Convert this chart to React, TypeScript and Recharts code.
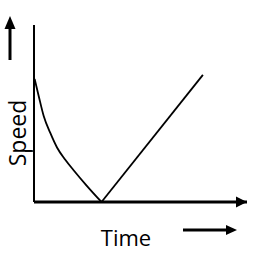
import {
  LineChart,
  Line,
  XAxis,
  YAxis,
  ReferenceLine,
  Customized,
} from "recharts";

// speed falls along a curve to zero, then rises linearly
const curveTime = [0.3, 2.2, 4.55, 7.65, 10.8, 14.6, 18.5, 24.7, 31.7];
const curveSpeed = [69.5, 59.9, 48.6, 39.0, 30.8, 24.0, 18.1, 9.3, 0];
const riseTime = [31.7, 79.3];
const riseSpeed = [0, 71.8];
const speedTick = 28.8;

const xLabel = "Time";
const yLabel = "Speed";

const curveData = curveTime.map((t, i) => ({ t, v: curveSpeed[i] }));
const riseData = riseTime.map((t, i) => ({ t, v: riseSpeed[i] }));

const FONT = "'Open Sans', 'Noto Sans', sans-serif";

function Decorations() {
  return (
    <g>
      {/* x axis arrowhead */}
      <polygon points="247,202 236,196.5 236,207.5" fill="#000" />
      {/* up arrow beside y label */}
      <line x1={10} y1={60} x2={10} y2={26} stroke="#000" strokeWidth={3} />
      <polygon points="10,16 4.5,29 15.5,29" fill="#000" />
      {/* right arrow beside x label */}
      <line x1={183} y1={230} x2={228} y2={230} stroke="#000" strokeWidth={3} />
      <polygon points="237,230 226,225 226,235" fill="#000" />
      <text
        x={126}
        y={246}
        textAnchor="middle"
        fontFamily={FONT}
        fontSize={22}
        fill="#000"
      >
        {xLabel}
      </text>
      <text
        x={26}
        y={133}
        textAnchor="middle"
        fontFamily={FONT}
        fontSize={23}
        fill="#000"
        transform="rotate(-90, 26, 133)"
      >
        {yLabel}
      </text>
    </g>
  );
}

export default function App() {
  return (
    <div style={{ position: "absolute", left: 0, top: 0, background: "#fff" }}>
      <LineChart
        width={274}
        height={254}
        margin={{ top: 25, right: 27, bottom: 52, left: 34 }}
      >
        <XAxis type="number" dataKey="t" domain={[0, 100]} hide />
        <YAxis type="number" dataKey="v" domain={[0, 100]} hide />
        <ReferenceLine x={0} stroke="#000" strokeWidth={2} ifOverflow="visible" />
        <ReferenceLine
          segment={[
            { x: -4.2, y: speedTick },
            { x: 0, y: speedTick },
          ]}
          stroke="#000"
          strokeWidth={1.5}
          ifOverflow="visible"
        />
        <Line
          data={curveData}
          dataKey="v"
          type="monotone"
          stroke="#000"
          strokeWidth={1.8}
          dot={false}
          isAnimationActive={false}
        />
        <Line
          data={riseData}
          dataKey="v"
          type="linear"
          stroke="#000"
          strokeWidth={1.8}
          dot={false}
          isAnimationActive={false}
        />
        <ReferenceLine y={0} stroke="#000" strokeWidth={3} ifOverflow="visible" />
        <Customized component={Decorations} />
      </LineChart>
    </div>
  );
}
